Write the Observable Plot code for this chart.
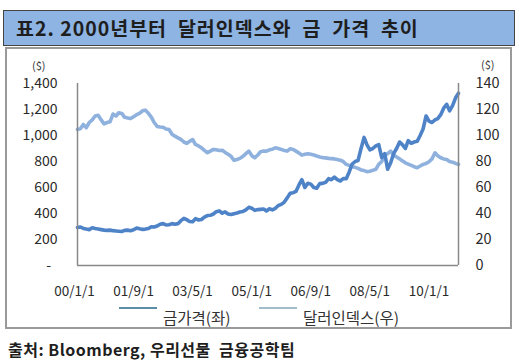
<!DOCTYPE html>
<html><head><meta charset="utf-8">
<script src="https://cdn.jsdelivr.net/npm/d3@7"></script>
<script src="https://cdn.jsdelivr.net/npm/@observablehq/plot@0.6"></script>
<style>
body{margin:0;background:#fff;width:520px;height:364px;position:relative;overflow:hidden;font-family:"Noto Sans CJK KR","Noto Sans",sans-serif;}
#title{position:absolute;left:3px;top:10px;width:510px;height:34px;background:#8db4e2;border:1px solid #444;box-sizing:content-box;}
#title span{position:absolute;left:12px;top:50%;transform:translateY(-52%);font-weight:700;font-size:19.5px;letter-spacing:1px;color:#1e1e1e;white-space:pre;}
#box{position:absolute;left:5px;top:47px;width:503px;height:278px;border:2px solid #9a9a9a;background:#fff;}
#chart{position:absolute;left:6px;top:49px;}
.unit{position:absolute;font-size:11px;color:#333;}
.lg{position:absolute;font-size:15.5px;color:#333;white-space:nowrap;}
.sw{position:absolute;height:2px;}
#caption{position:absolute;left:8px;top:337px;font-weight:700;font-size:16px;letter-spacing:0.5px;color:#1e1e1e;white-space:pre;}
</style></head>
<body>
<div id="title"><span>표2. 2000년부터  달러인덱스와  금  가격  추이</span></div>
<div id="box"></div>
<div id="chart"></div>
<div class="unit" style="left:32px;top:57px;">($)</div>
<div class="unit" style="left:481px;top:56px;">($)</div>
<div class="sw" style="left:119px;top:307px;width:38px;background:#5b8ea6;"></div>
<div class="lg" style="left:163px;top:306px;">금가격(좌)</div>
<div class="sw" style="left:259px;top:307px;width:38px;background:#a3bccb;"></div>
<div class="lg" style="left:303px;top:306px;">달러인덱스(우)</div>
<div id="caption">출처: Bloomberg, 우리선물  금융공학팀</div>
<script>
// Monthly readings, Jan 2000 .. Oct 2010
const startDate = new Date(Date.UTC(2000, 0, 1));
const goldPrice = [
  292, 296, 285, 280, 276, 290, 284, 280, 276, 272, 270, 272,
  268, 266, 264, 262, 270, 272, 268, 275, 288, 282, 278, 280,
  284, 298, 296, 304, 318, 322, 312, 314, 322, 318, 322, 345,
  362, 352, 338, 336, 360, 350, 354, 372, 384, 386, 396, 414,
  420, 402, 412, 396, 392, 398, 404, 412, 416, 428, 448, 440,
  424, 430, 432, 434, 420, 436, 428, 440, 462, 470, 488, 520,
  556, 560, 570, 620, 660, 600, 632, 626, 600, 594, 630, 632,
  640, 668, 660, 680, 660, 650, 668, 668, 720, 780, 800, 808,
  900, 985, 930, 890, 900, 920, 930, 830, 860, 740, 790, 860,
  900, 950, 930, 900, 960, 940, 950, 955, 1000, 1050, 1150, 1110,
  1100, 1120, 1130, 1160, 1210, 1240, 1190, 1230, 1290, 1325
];
const dollarIndex = [
  104.6, 105.3, 108.5, 106, 110, 112, 115, 115.5, 112, 109, 110, 110.5,
  116.5, 115, 117.5, 117, 114, 113.5, 113, 114.5, 116, 117, 119, 119.5,
  117, 114, 110, 107, 106.5, 106.4, 105, 104.6, 101, 99.5, 98.2, 97,
  95, 93.9, 95.5, 96.9, 93.1, 92, 90.5, 88.5, 86.7, 88, 89.3, 89,
  88.5, 88.6, 87, 85.5, 84, 80.9, 81.5, 82.4, 84, 86, 88, 84.5,
  82.9, 85, 87.5, 88, 88, 89, 89.5, 90.5, 90, 89.3, 88.5, 88,
  89.8, 89.3, 88, 86.5, 84.9, 85.5, 85.9, 85.5, 85, 84.2, 83.5, 83,
  82.8, 82.4, 82.2, 82, 81.6, 81, 80, 77.8, 77, 76, 75.5, 74.7,
  73.5, 73, 72.2, 72.5, 73.2, 74, 77.8, 80, 84.9, 86, 88, 85,
  83.4, 82, 80.5, 79, 78, 77, 76, 75.2, 76.5, 77.8, 78.5, 79.8,
  82, 86.7, 84.5, 82.9, 82, 81.6, 80, 79.5, 78.5, 77.8
];
const xTickLabels = ["00/1/1", "01/9/1", "03/5/1", "05/1/1", "06/9/1", "08/5/1", "10/1/1"];
const leftTicks = [0, 200, 400, 600, 800, 1000, 1200, 1400];
const rightTicks = [0, 20, 40, 60, 80, 100, 120, 140];

const parseTick = s => { const [y, m, d] = s.split("/").map(Number); return new Date(Date.UTC(2000 + y, m - 1, d)); };
const xTicks = xTickLabels.map(parseTick);
const gold = goldPrice.map((v, i) => ({date: d3.utcMonth.offset(startDate, i), v}));
const dollar = dollarIndex.map((v, i) => ({date: d3.utcMonth.offset(startDate, i), v: v * 10}));
const xEnd = gold[gold.length - 1].date;
const fmtLeft = d => d === 0 ? "-\u00a0\u00a0" : d3.format(",")(d);
const labelMap = new Map(xTicks.map((d, i) => [+d, xTickLabels[i]]));

const chart = Plot.plot({
  width: 505, height: 277,
  marginLeft: 71, marginRight: 53, marginTop: 34, marginBottom: 61,
  style: {fontFamily: "'Noto Sans CJK KR','Noto Sans',sans-serif", background: "transparent", color: "#2a2a2a"},
  x: {type: "utc", domain: [startDate, xEnd]},
  y: {domain: [0, 1400]},
  marks: [
    Plot.axisY({ticks: leftTicks, tickSize: 0, tickPadding: 20, tickFormat: fmtLeft, label: null, fontSize: 14, anchor: "left"}),
    Plot.axisY({ticks: rightTicks.map(d => d * 10), tickSize: 0, tickPadding: 17, tickFormat: d => String(d / 10), label: null, fontSize: 14.5, anchor: "right", textAnchor: "start"}),
    Plot.axisX({ticks: xTicks, tickSize: 0, tickPadding: 21, tickFormat: d => labelMap.get(+d), label: null, fontSize: 13.5, dx: -3}),
    Plot.lineY(dollar, {x: "date", y: "v", stroke: "#8fb1de", strokeWidth: 3.6, strokeLinejoin: "round", strokeLinecap: "round", curve: "linear"}),
    Plot.lineY(gold, {x: "date", y: "v", stroke: "#4f83c8", strokeWidth: 3.6, strokeLinejoin: "round", strokeLinecap: "round", curve: "linear"}),
    Plot.ruleX([startDate, xEnd], {y1: 0, y2: 1400, stroke: "#888", strokeWidth: 1.5}),
    Plot.ruleY([0], {stroke: "#888", strokeWidth: 1.5})
  ]
});
document.getElementById("chart").appendChild(chart);
</script>
</body></html>
